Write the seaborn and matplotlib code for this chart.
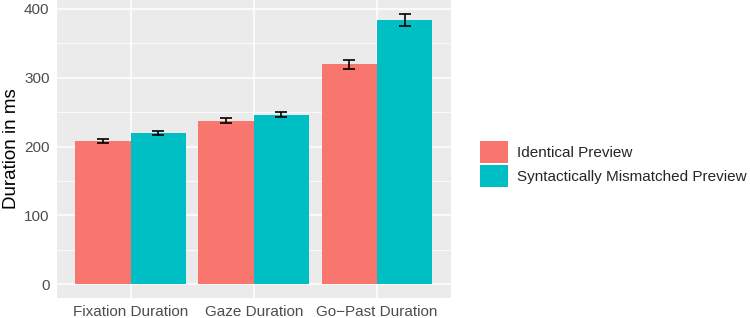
import matplotlib
matplotlib.use("Agg")
import matplotlib.pyplot as plt
import seaborn as sns
import pandas as pd
import numpy as np
from matplotlib.patches import Patch

# values
measures = ["Fixation Duration", "Gaze Duration", "Go\u2212Past Duration"]
conditions = ["Identical Preview", "Syntactically Mismatched Preview"]
identical_mean = [208, 237.5, 319.5]
identical_se = [2.4, 3.5, 6.5]
mismatch_mean = [219, 246, 384]
mismatch_se = [2.9, 3.6, 9.3]

colors = ["#F8766D", "#00BFC4"]

df = pd.DataFrame({
    "measure": measures * 2,
    "condition": [conditions[0]] * 3 + [conditions[1]] * 3,
    "duration": identical_mean + mismatch_mean,
    "se": identical_se + mismatch_se,
})

sns.set_style("darkgrid", {"axes.facecolor": "#EBEBEB", "grid.color": "white"})
plt.rcParams["font.family"] = ["Liberation Sans", "DejaVu Sans"]

fig = plt.figure(figsize=(7.5, 3.18), dpi=100)
ax = fig.add_axes([0.0756, 0.064, 0.5255, 0.936])

sns.barplot(data=df, x="measure", y="duration", hue="condition",
            palette=colors, width=0.9, errorbar=None, saturation=1,
            linewidth=0, ax=ax, legend=False)

# error bars, placed at the centre of each bar
bars = ax.patches[:6]
for bar, (_, row) in zip(bars, df.iterrows()):
    xc = bar.get_x() + bar.get_width() / 2
    ax.errorbar(xc, row["duration"], yerr=row["se"], fmt="none",
                ecolor="black", elinewidth=1.2, capsize=4.6, capthick=1.2,
                zorder=5)

ax.set_xlim(-0.6, 2.6)
ax.set_ylim(-19.7, 413)
ax.set_yticks([0, 100, 200, 300, 400])
ax.set_yticks([50, 150, 250, 350], minor=True)
ax.grid(True, which="major", color="white", linewidth=1.1)
ax.grid(True, which="minor", axis="y", color="white", linewidth=0.55)
ax.set_axisbelow(True)
for s in ax.spines.values():
    s.set_visible(False)

ax.tick_params(axis="both", which="major", length=3.6, width=0.8,
               color="#333333", labelcolor="#4D4D4D", labelsize=11, pad=1.5)
ax.tick_params(axis="y", which="minor", length=0)
ax.set_xlabel("")
ax.set_ylabel("Duration in ms", fontsize=13.5, color="black", labelpad=3)

handles = [Patch(facecolor=c, edgecolor="none") for c in colors]
fig.legend(handles, conditions, loc="center left", bbox_to_anchor=(0.64, 0.485),
           frameon=False, fontsize=11, handlelength=1.8, handleheight=1.8,
           handletextpad=0.65, labelspacing=0.15, borderpad=0, borderaxespad=0)

fig.savefig("out.png", dpi=100)
